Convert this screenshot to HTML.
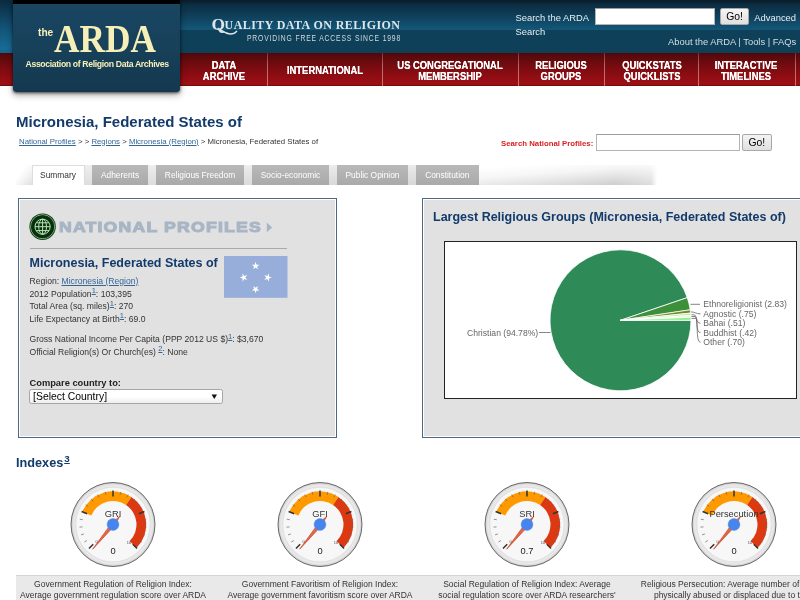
<!DOCTYPE html>
<html lang="en">
<head>
<meta charset="utf-8">
<title>Micronesia, Federated States of - National Profiles - the ARDA</title>
<style>
*{box-sizing:border-box;margin:0;padding:0}
html,body{width:800px;height:600px;overflow:hidden;background:#fff}
body{position:relative;font-family:"Liberation Sans",Arial,sans-serif;color:#333;font-size:8.6px}
.abs{position:absolute;white-space:nowrap}
a{color:#336699;text-decoration:underline}
/* header */
#hdr{left:0;top:0;width:800px;height:53px;background:linear-gradient(#091c29 0,#0c2e43 5px,#0f415c 17px,#135678 29px,#135678 29.5px,#0f405a 30px,#0f405a 100%)}
#nav{left:0;top:53px;width:800px;height:33px;background:linear-gradient(#4e090b 0,#5c0a0d 4px,#760c10 13px,#8c0d13 22px,#9c0f15 30px,#9c0f15 31.5px,#600a0b 33px)}
.sep{top:53px;width:1px;height:33px;background:linear-gradient(#8a3a3c,#c47a7c 40%,#c98a8a);opacity:.85}
.nv{top:60px;color:#fff;font-weight:bold;font-size:11.2px;line-height:11px;text-align:center;transform:translateX(-50%) scaleX(.84);text-shadow:0 0 .4px #fff}
#logo{left:12.5px;top:0;width:167px;height:91.5px;background:linear-gradient(#1a4663 0,#174059 50px,#14384f 100%);border-radius:0 0 3px 3px;box-shadow:0 1px 3px rgba(0,0,0,.6),0 3px 7px rgba(0,0,0,.35)}
#logo i{position:absolute;left:0;top:0;width:100%;height:3.5px;background:#000}
.cream{color:#f6f0b8}
.hl{color:#e8eef2;font-size:9.4px}
.inp{background:#fff;border:1px solid #b4b4b4;border-top-color:#9c9c9c}
.btn{background:linear-gradient(#f4f4f4,#e0e0e0);border:1px solid #a8a8a8;border-radius:2px;color:#000;text-align:center}
/* tabs */
.tab{top:165px;height:20px;background:linear-gradient(#b9b9b9,#a9a9a9);color:#fff;font-size:8.4px;line-height:20px;text-align:center}
/* panels */
.panel{background:#e1e1e1;border:1px solid #4c6781;box-shadow:inset 0 0 0 1px #fff}
.h2{color:#123a6b;font-weight:bold}
.row{left:29.5px;font-size:8.6px;color:#333}
sup.s{font-size:7.6px;vertical-align:baseline;position:relative;top:-3.4px}
.cap{font-size:8.5px;color:#333;text-align:center;transform:translateX(-50%);line-height:11.2px}
</style>
</head>
<body>
<!-- HEADER -->
<div id="hdr" class="abs"></div>
<div id="nav" class="abs"></div>
<div class="abs sep" style="left:266.5px"></div>
<div class="abs sep" style="left:381.5px"></div>
<div class="abs sep" style="left:518px"></div>
<div class="abs sep" style="left:604px"></div>
<div class="abs sep" style="left:698px"></div>
<div class="abs sep" style="left:795px"></div>
<div class="abs nv" style="left:224.4px">DATA<br>ARCHIVE</div>
<div class="abs nv" style="left:325px;top:64.5px">INTERNATIONAL</div>
<div class="abs nv" style="left:450px">US CONGREGATIONAL<br>MEMBERSHIP</div>
<div class="abs nv" style="left:561px">RELIGIOUS<br>GROUPS</div>
<div class="abs nv" style="left:651.7px">QUICKSTATS<br>QUICKLISTS</div>
<div class="abs nv" style="left:745.7px">INTERACTIVE<br>TIMELINES</div>

<div class="abs" style="left:0;top:0;width:13px;height:53px;background:linear-gradient(#0b2a3e 0,#0f3f5c 14px,#14587d 32px,#176b95 48px,#15648c 53px)"></div>
<div id="logo" class="abs"><i></i>
  <div class="abs cream" style="left:25.5px;top:27px;font-weight:bold;font-size:10.2px;line-height:12px">the</div>
  <div class="abs cream" style="left:41.2px;top:17px;font-family:'Liberation Serif',serif;font-weight:bold;font-size:39.2px;line-height:44px;transform-origin:0 0;transform:scaleX(.90)">ARDA</div>
  <div class="abs cream" style="left:13px;top:59.3px;font-weight:bold;font-size:8.7px;line-height:11px;letter-spacing:-.36px">Association of Religion Data Archives</div>
</div>

<div class="abs" style="left:211.5px;top:16px;color:#dfe6ea;font-family:'Liberation Serif',serif;font-weight:bold;font-size:17.4px;line-height:16px">Q</div>
<svg class="abs" style="left:216px;top:27px" width="24" height="9" viewBox="0 0 24 9"><path d="M2 1.5C6 3 9 6.8 14 7 17.5 7.1 19.5 5.8 20.6 4.4" fill="none" stroke="#dfe6ea" stroke-width="1.5" stroke-linecap="round"/></svg>
<div class="abs" style="left:224.6px;top:17.2px;color:#dfe6ea;font-family:'Liberation Serif',serif;font-weight:bold;font-size:12px;line-height:16px;letter-spacing:.42px">UALITY DATA ON RELIGION</div>
<div class="abs" style="left:247.3px;top:33.5px;color:#cfd9df;font-size:8.7px;line-height:9px;letter-spacing:1.09px;transform-origin:0 0;transform:scaleX(.78)">PROVIDING FREE ACCESS SINCE 1998</div>

<div class="abs hl" style="left:515.5px;top:11.5px;line-height:11px">Search the ARDA</div>
<div class="abs inp" style="left:594.5px;top:8px;width:120px;height:17px"></div>
<div class="abs btn" style="left:720px;top:8px;width:29px;height:17px;font-size:10.4px;line-height:16.6px">Go!</div>
<div class="abs hl" style="left:754.3px;top:11.5px;line-height:11px">Advanced</div>
<div class="abs hl" style="left:515.5px;top:25.5px;line-height:11px">Search</div>
<div class="abs hl" style="left:668px;top:35.5px;line-height:11px;color:#d4dde3">About the ARDA | Tools | FAQs</div>

<!-- TITLE -->
<div class="abs h2" style="left:16px;top:113px;font-size:15px;line-height:18px">Micronesia, Federated States of</div>
<div class="abs" style="left:19px;top:136.5px;font-size:7.8px;line-height:10px;color:#333"><a href="#">National Profiles</a> &gt; &gt; <a href="#">Regions</a> &gt; <a href="#">Micronesia (Region)</a> &gt; Micronesia, Federated States of</div>
<div class="abs" style="left:501px;top:138.6px;font-size:7.8px;line-height:10px;color:#d81e1e;font-weight:bold">Search National Profiles:</div>
<div class="abs inp" style="left:596px;top:133.5px;width:144px;height:17px"></div>
<div class="abs btn" style="left:742px;top:133.5px;width:29.5px;height:17px;font-size:10.4px;line-height:16px">Go!</div>

<!-- TABS -->
<div class="abs" style="left:16px;top:165px;width:641px;height:19.5px;background:linear-gradient(90deg,#dfdfdf 0,#d6d6d6 460px,#cbcbcb 600px,#dedede 635px,#fff 100%)"></div>
<div class="abs" style="left:16px;top:165px;width:462px;height:19.5px;background:linear-gradient(rgba(255,255,255,.5),rgba(255,255,255,0))"></div>
<div class="abs" style="left:14px;top:165px;width:18px;height:19.5px;background:linear-gradient(125deg,#fff 35%,rgba(255,255,255,0) 100%)"></div>
<div class="abs" style="left:478px;top:165px;width:180px;height:19.5px;background:linear-gradient(176deg,#fff 10%,rgba(255,255,255,.8) 40%,rgba(255,255,255,0) 95%)"></div>
<div class="abs tab" style="left:31.5px;width:53px;background:#fff;color:#333;border:1px solid #ddd;border-bottom:0;line-height:19px">Summary</div>
<div class="abs tab" style="left:92px;width:56px">Adherents</div>
<div class="abs tab" style="left:156px;width:88px">Religious Freedom</div>
<div class="abs tab" style="left:252px;width:77px">Socio-economic</div>
<div class="abs tab" style="left:337px;width:71px">Public Opinion</div>
<div class="abs tab" style="left:416px;width:62.5px">Constitution</div>

<!-- LEFT PANEL -->
<div class="abs panel" style="left:18px;top:198px;width:319px;height:240px"></div>
<svg class="abs" style="left:29px;top:213px" width="28" height="28" viewBox="0 0 28 28">
  <circle cx="13.6" cy="13.7" r="13.2" fill="#0d3d14"/>
  <circle cx="13.6" cy="13.7" r="12" fill="none" stroke="#9cc79c" stroke-width=".8"/>
  <circle cx="13.6" cy="13.7" r="11.3" fill="#07300c"/>
  <g fill="none" stroke="#b9e2b9" stroke-width="1">
    <circle cx="13.6" cy="13.7" r="7.6"/>
    <ellipse cx="13.6" cy="13.7" rx="3.9" ry="7.6"/>
    <path d="M13.6 6.1v15.2M6 13.7h15.2M7.2 9.8h12.8M7.2 17.6h12.8"/>
  </g>
</svg>
<div class="abs" style="left:59.3px;top:216.8px;font-size:14.7px;line-height:20px;font-weight:bold;color:#a7b5c5;letter-spacing:1px;-webkit-text-stroke:1px #a7b5c5;transform-origin:0 50%;transform:scaleX(1.2)">NATIONAL PROFILES</div>
<svg class="abs" style="left:264px;top:220px" width="10" height="14" viewBox="0 0 10 14"><path d="M2.8 2.6 8.2 7.4 2.8 12.2z" fill="#a7b5c5"/></svg>
<div class="abs" style="left:29.5px;top:247.5px;width:257px;height:1px;background:#aaa"></div>
<div class="abs h2" style="left:29.5px;top:256px;font-size:12.5px;line-height:15px">Micronesia, Federated States of</div>
<svg class="abs" style="left:224px;top:256px" width="64" height="42" viewBox="0 0 64 42">
  <rect x="0" y="0" width="63.5" height="41.8" fill="#97aedb"/>
  <g fill="#fff">
    <path id="st" d="M0-4.1 .92-1.27 3.9-1.27 1.49.48 2.41 3.32 0 1.57-2.41 3.32-1.49.48-3.9-1.27-.92-1.27z" transform="translate(31.6 9.9)"/>
    <path d="M0-4.1 .92-1.27 3.9-1.27 1.49.48 2.41 3.32 0 1.57-2.41 3.32-1.49.48-3.9-1.27-.92-1.27z" transform="translate(19.8 21.5) rotate(-90)"/>
    <path d="M0-4.1 .92-1.27 3.9-1.27 1.49.48 2.41 3.32 0 1.57-2.41 3.32-1.49.48-3.9-1.27-.92-1.27z" transform="translate(43.7 21.5) rotate(90)"/>
    <path d="M0-4.1 .92-1.27 3.9-1.27 1.49.48 2.41 3.32 0 1.57-2.41 3.32-1.49.48-3.9-1.27-.92-1.27z" transform="translate(31.6 33.2) rotate(180)"/>
  </g>
</svg>
<div class="abs row" style="top:276px;line-height:10px">Region: <a href="#">Micronesia (Region)</a></div>
<div class="abs row" style="top:288.5px;line-height:10px">2012 Population<sup class="s"><a href="#">1</a></sup>: 103,395</div>
<div class="abs row" style="top:301px;line-height:10px">Total Area (sq. miles)<sup class="s"><a href="#">1</a></sup>: 270</div>
<div class="abs row" style="top:313.5px;line-height:10px">Life Expectancy at Birth<sup class="s"><a href="#">1</a></sup>: 69.0</div>
<div class="abs row" style="top:334px;line-height:10px">Gross National Income Per Capita (PPP 2012 US $)<sup class="s"><a href="#">1</a></sup>: $3,670</div>
<div class="abs row" style="top:346.5px;line-height:10px">Official Religion(s) Or Church(es) <sup class="s"><a href="#">2</a></sup>: None</div>
<div class="abs row" style="top:377.6px;line-height:10px;font-weight:bold;font-size:9.3px;color:#222">Compare country to:</div>
<div class="abs" style="left:29.3px;top:388.5px;width:193.4px;height:15.3px;background:linear-gradient(#fff 50%,#eee);border:1px solid #a6a6a6;border-radius:2.5px;font-size:10.4px;line-height:14.6px;color:#000;padding-left:2.8px">[Select Country]</div>
<svg class="abs" style="left:211px;top:394px" width="7" height="6" viewBox="0 0 7 6"><path d="M.6.6h5.4L3.3 5z" fill="#111"/></svg>

<!-- RIGHT PANEL -->
<div class="abs panel" style="left:422px;top:198px;width:400px;height:240px"></div>
<div class="abs h2" style="left:433px;top:209.5px;font-size:12.5px;line-height:15px">Largest Religious Groups (Micronesia, Federated States of)</div>
<div class="abs" style="left:443.5px;top:241px;width:353.8px;height:157.5px;background:#fff;border:1px solid #222"></div>
<svg class="abs" style="left:444px;top:241.5px" width="353" height="156" viewBox="444 242 353 156" font-family="Liberation Sans,Arial,sans-serif" font-size="8.6" fill="#666">
  <g stroke="#fff" stroke-width=".8" stroke-linejoin="round">
    <path d="M620.5 320.3 691 320.3A70.5 70.5 0 1 1 687.26 297.64z" fill="#2e8b57"/>
    <path d="M620.5 320.3 687.26 297.64A70.5 70.5 0 0 1 690.21 309.8z" fill="#3d8f3a"/>
    <path d="M620.5 320.3 690.21 309.8A70.5 70.5 0 0 1 690.63 313.09z" fill="#6b8e23"/>
    <path d="M620.5 320.3 690.63 313.09A70.5 70.5 0 0 1 690.83 315.35z" fill="#c9dfa8"/>
    <path d="M620.5 320.3 690.83 315.35A70.5 70.5 0 0 1 690.93 317.2z" fill="#e6f5d8"/>
    <path d="M620.5 320.3 690.93 317.2A70.5 70.5 0 0 1 691 320.3z" fill="#90ee90"/>
  </g>
  <g fill="none" stroke="#666" stroke-width=".8">
    <path d="M539 332.5H550.5"/>
    <path d="M690.5 304.3H700"/>
    <path d="M691 311.9C695 311.9 696 313.9 700.5 313.9"/>
    <path d="M691.5 314.8H694C697.2 314.8 695.6 323.3 700.5 323.3"/>
    <path d="M691.5 316.5H695C698 316.5 695.2 332.7 700.5 332.7"/>
    <path d="M691.5 318.4H695.8C698.6 318.4 695.2 342.3 700.5 342.3"/>
  </g>
  <text x="467" y="335.5">Christian (94.78%)</text>
  <text x="703.3" y="307.3">Ethnoreligionist (2.83)</text>
  <text x="703.3" y="316.6">Agnostic (.75)</text>
  <text x="703.3" y="326.2">Bahai (.51)</text>
  <text x="703.3" y="335.6">Buddhist (.42)</text>
  <text x="703.3" y="345.4">Other (.70)</text>
</svg>

<!-- INDEXES -->
<div class="abs h2" style="left:16px;top:456.2px;font-size:12.7px;line-height:15px">Indexes<a href="#" style="font-size:9.8px;color:#123a6b;position:relative;top:-5.6px;left:1px">3</a></div>

<div class="abs" style="left:16px;top:575px;width:800px;height:30px;background:#e9e9e9;border-top:1px solid #d4d4d4"></div>
<div class="abs cap" style="left:113px;top:578.7px">Government Regulation of Religion Index:<br>Average government regulation score over ARDA</div>
<div class="abs cap" style="left:320px;top:578.7px">Government Favoritism of Religion Index:<br>Average government favoritism score over ARDA</div>
<div class="abs cap" style="left:527px;top:578.7px">Social Regulation of Religion Index: Average<br>social regulation score over ARDA researchers'</div>
<div class="abs cap" style="left:734px;top:578.7px">Religious Persecution: Average number of people<br>physically abused or displaced due to their<br>religion</div>

<!-- GAUGES -->
<svg class="abs" style="left:60px;top:475px" width="740" height="100" viewBox="60 475 740 100" font-family="Liberation Sans,Arial,sans-serif" text-anchor="middle">
  <defs>
    <radialGradient id="ring" cx="0" cy="0" r="42" gradientUnits="userSpaceOnUse">
      <stop offset=".88" stop-color="#f2f2f2"/><stop offset=".95" stop-color="#e4e4e4"/><stop offset="1" stop-color="#c4c4c4"/>
    </radialGradient>
    <g id="gface">
      <circle r="42" fill="url(#ring)" stroke="#4a4a4a" stroke-width=".8"/>
      <circle r="37.5" fill="#f7f7f7" stroke="#e2e2e2" stroke-width="1.6"/>
      <path d="M-30.67 -12.71A33.2 33.2 0 0 1 18.44 -27.60L13.06 -19.54A23.5 23.5 0 0 0 -21.71 -8.99z" fill="#ff9900"/>
      <path d="M18.44 -27.60A33.2 33.2 0 0 1 23.48 23.48L16.62 16.62A23.5 23.5 0 0 0 13.06 -19.54z" fill="#dc3912"/>
      <path d="M-24.04 24.04L-19.80 19.80M-31.41 -13.01L-25.87 -10.72M0.00 -34.00L0.00 -28.00M31.41 -13.01L25.87 -10.72M24.04 24.04L19.80 19.80" stroke="#333" stroke-width="1.5" fill="none"/>
      <path d="M-28.65 17.56L-26.09 15.99M-31.96 10.38L-29.10 9.46M-33.50 2.64L-30.51 2.40M-33.19 -5.26L-30.22 -4.79M-27.18 -19.75L-24.76 -17.99M-21.82 -25.55L-19.87 -23.27M-15.25 -29.94L-13.89 -27.26M-7.84 -32.67L-7.14 -29.75M7.84 -32.67L7.14 -29.75M15.25 -29.94L13.89 -27.26M21.82 -25.55L19.87 -23.27M27.18 -19.75L24.76 -17.99M33.19 -5.26L30.22 -4.79M33.50 2.64L30.51 2.40M31.96 10.38L29.10 9.46M28.65 17.56L26.09 15.99" stroke="#666" stroke-width=".7" fill="none"/>
      <text x="-16.5" y="18" font-size="3.9" fill="#444">0</text>
      <text x="16" y="19.4" font-size="3.9" fill="#444">10</text>
    </g>
    <g id="gneedle">
      <path d="M-20.35 24.69L1.47 1.21L6.87 -8.33L-1.47 -1.21z" fill="#dc3912" fill-opacity=".75" stroke="#c63310" stroke-width=".6"/>
      <circle r="5.9" fill="#4684ee" stroke="#5f86d8" stroke-width=".5"/>
    </g>
  </defs>
  <g transform="translate(113 524.5)">
    <use href="#gface"/>
    <text x="0" y="-7.8" font-size="9.3" fill="#333">GRI</text>
    <text x="0" y="29" font-size="9.3" fill="#222">0</text>
    <use href="#gneedle"/>
  </g>
  <g transform="translate(320 524.5)">
    <use href="#gface"/>
    <text x="0" y="-7.8" font-size="9.3" fill="#333">GFI</text>
    <text x="0" y="29" font-size="9.3" fill="#222">0</text>
    <use href="#gneedle"/>
  </g>
  <g transform="translate(527 524.5)">
    <use href="#gface"/>
    <text x="0" y="-7.8" font-size="9.3" fill="#333">SRI</text>
    <text x="0" y="29" font-size="9.3" fill="#222">0.7</text>
    <use href="#gneedle"/>
  </g>
  <g transform="translate(734 524.5)">
    <use href="#gface"/>
    <text x="0" y="-7.8" font-size="9.3" fill="#333">Persecution</text>
    <text x="0" y="29" font-size="9.3" fill="#222">0</text>
    <use href="#gneedle"/>
  </g>
</svg>
</body>
</html>
